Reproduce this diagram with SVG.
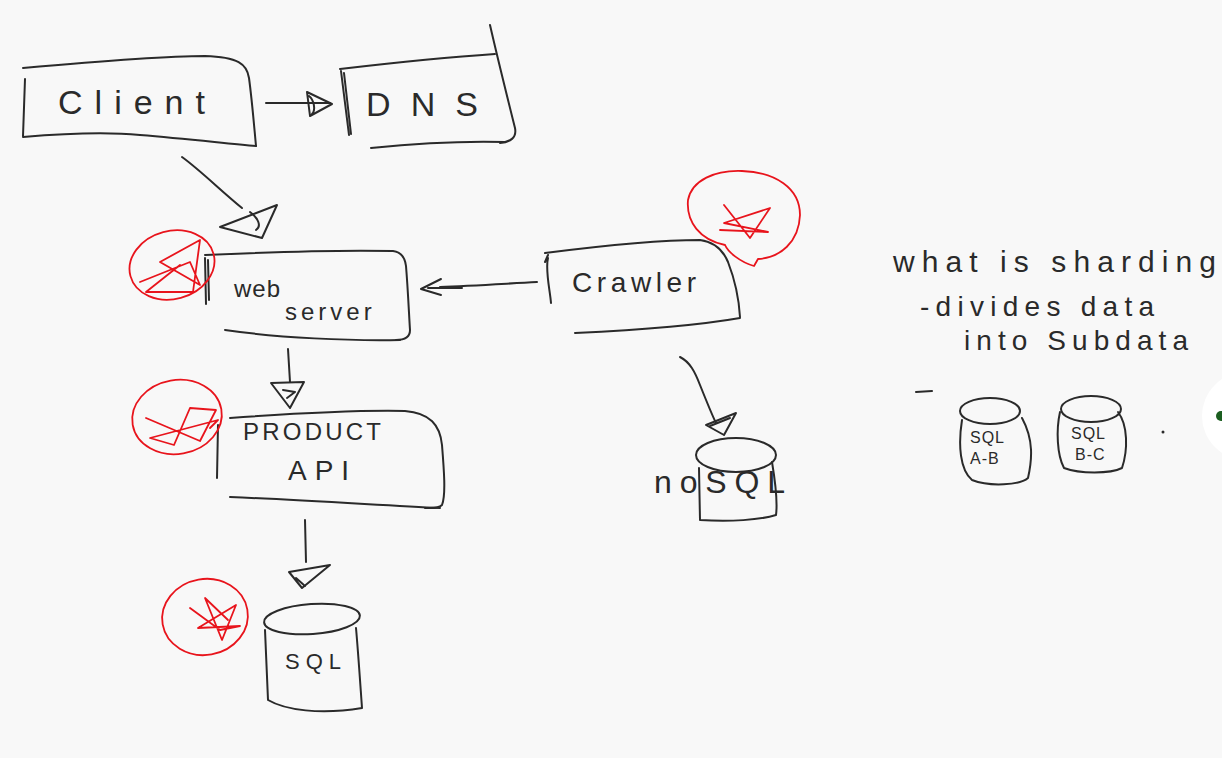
<svg xmlns="http://www.w3.org/2000/svg" width="1222" height="758" viewBox="0 0 1222 758">
<style>
.s{fill:none;stroke:#2a2a2a;stroke-width:2;stroke-linecap:round;stroke-linejoin:round}
.r{fill:none;stroke:#e8141c;stroke-width:1.8;stroke-linecap:round;stroke-linejoin:round}
.t{font-family:"Liberation Sans","DejaVu Sans",sans-serif;fill:#2a2a2a;font-weight:normal}
</style>
<rect width="1222" height="758" fill="#f8f8f8"/>
<g id="client">
<path class="s" d="M23,68 C90,62 160,56 205,56 C238,57 247,64 249,78 C252,100 254,125 256,146"/>
<path class="s" d="M25,79 L23,136"/>
<path class="s" d="M23,137 C70,133 110,132 140,135 C190,139 230,144 256,146"/>
<text class="t" x="58" y="114" font-size="34" letter-spacing="3" textLength="150">Client</text>
</g>
<g id="dns">
<path class="s" d="M340,69 C400,62 450,57 495,54"/>
<path class="s" d="M341,71 L349,135 M344,73 L351,134"/>
<path class="s" d="M490,25 C498,60 508,100 515,128 C517,138 510,142 500,143"/>
<path class="s" d="M371,148 C420,143 470,141 505,142"/>
<text class="t" x="366" y="116" font-size="34" letter-spacing="6" textLength="118">DNS</text>
</g>
<g id="webserver">
<path class="s" d="M205,255 C270,252 350,250 393,251 C402,252 405,258 406,266 C408,290 409,315 410,330 C410,338 404,340 396,340"/>
<path class="s" d="M205,258 L206,304 M208,260 L209,300"/>
<path class="s" d="M225,330 C280,338 350,341 400,340"/>
<text class="t" x="234" y="297" font-size="24" letter-spacing="1">web</text>
<text class="t" x="285" y="320" font-size="24" letter-spacing="4">server</text>
<ellipse class="r" cx="172" cy="265" rx="43" ry="34" transform="rotate(-15 172 265)"/>
<path class="r" d="M140,282 L190,262 L200,285 L160,262 L200,240 L193,292 L146,292 L180,265"/>
</g>
<g id="crawler">
<path class="s" d="M545,253 C600,246 660,240 700,240 C715,242 723,250 728,262 C735,280 739,300 740,317"/>
<path class="s" d="M548,258 C545,270 550,290 551,303 M545,262 L548,255"/>
<path class="s" d="M575,333 C640,330 700,325 740,318"/>
<text class="t" x="572" y="292" font-size="28" letter-spacing="1" textLength="125">Crawler</text>
<path class="r" d="M725,245 C700,240 686,222 688,200 C692,180 715,170 742,171 C775,172 800,188 800,215 C799,242 780,258 758,259 L754,266 C740,262 728,252 725,245"/>
<path class="r" d="M720,230 L768,232 L724,223 L770,208 L750,238 L724,205"/>
</g>
<g id="nosql">
<ellipse class="s" cx="736" cy="455" rx="40" ry="17"/>
<path class="s" d="M699,468 L700,520 C730,522 760,520 776,515 C778,500 775,480 772,462"/>
<text class="t" x="654" y="493" font-size="32" letter-spacing="1" textLength="132">noSQL</text>
</g>
<g id="productapi">
<path class="s" d="M230,418 C300,413 360,410 405,411 C430,413 440,425 442,445 C444,470 446,495 442,505 C438,509 432,508 425,508"/>
<path class="s" d="M218,425 L217,478"/>
<path class="s" d="M230,497 C300,500 380,505 440,508"/>
<text class="t" x="243" y="440" font-size="24" letter-spacing="4" textLength="142">PRODUCT</text>
<text class="t" x="288" y="480" font-size="28" letter-spacing="8">API</text>
<ellipse class="r" cx="177" cy="417" rx="45" ry="37" transform="rotate(-10 177 417)"/>
<path class="r" d="M146,418 L200,441 L216,410 L190,408 L174,445 L150,438 L218,420 L210,428"/>
</g>
<g id="sql">
<ellipse class="s" cx="312" cy="619" rx="48" ry="15" transform="rotate(-4 312 619)"/>
<path class="s" d="M265,630 L268,700 C285,710 320,715 362,708 C360,680 358,650 356,628"/>
<text class="t" x="285" y="669" font-size="22" letter-spacing="6">SQL</text>
<ellipse class="r" cx="205" cy="617" rx="43" ry="38" transform="rotate(-10 205 617)"/>
<path class="r" d="M190,608 L220,630 L240,626 L198,628 L236,605 L222,640 L205,598 L228,620"/>
</g>
<g id="shard-a">
<ellipse class="s" cx="990" cy="411" rx="30" ry="13"/>
<path class="s" d="M962,420 C958,445 960,470 972,480 C990,487 1020,485 1028,478 C1032,460 1034,440 1022,418"/>
<text class="t" x="970" y="443" font-size="16" letter-spacing="1">SQL</text>
<text class="t" x="970" y="464" font-size="16" letter-spacing="1">A-B</text>
</g>
<g id="shard-b">
<ellipse class="s" cx="1091" cy="409" rx="30" ry="13"/>
<path class="s" d="M1060,412 C1056,430 1057,455 1064,468 C1080,474 1110,474 1122,468 C1128,450 1128,425 1118,412"/>
<text class="t" x="1071" y="439" font-size="16" letter-spacing="1">SQL</text>
<text class="t" x="1075" y="460" font-size="16" letter-spacing="1">B-C</text>
</g>
<g id="notes">
<text class="t" x="893" y="272" font-size="30" letter-spacing="2" textLength="325">what is sharding</text>
<text class="t" x="920" y="316" font-size="28" letter-spacing="2" textLength="236">-divides data</text>
<text class="t" x="964" y="350" font-size="28" letter-spacing="2" textLength="226">into Subdata</text>
<path class="s" d="M916,392 L932,391"/>
<circle cx="1163" cy="432" r="1.5" fill="#2a2a2a"/>
<circle cx="1246" cy="416" r="44" fill="#ffffff"/>
<circle cx="1221" cy="416" r="5" fill="#1b5e20"/>
</g>
<g id="connectors">
<path class="s" d="M266,103 L330,103"/>
<path class="s" d="M307,92 L332,104 L310,116 Z M309,96 C314,100 316,110 312,114"/>
<path class="s" d="M182,157 C200,170 220,190 242,208"/>
<path class="s" d="M220,227 L277,205 L262,238 Z M250,212 C258,218 262,226 256,230"/>
<path class="s" d="M288,349 L290,382"/>
<path class="s" d="M271,383 L304,382 L290,408 Z M283,390 L295,392 L287,398"/>
<path class="s" d="M305,520 L306,562"/>
<path class="s" d="M289,572 L330,565 L302,588 Z M296,578 L305,586"/>
<path class="s" d="M537,282 C500,284 470,286 440,287"/>
<path class="s" d="M441,279 L421,289 L441,295 M428,288 L462,288"/>
<path class="s" d="M680,357 C690,362 695,372 700,385 C706,400 712,415 716,423"/>
<path class="s" d="M706,425 L736,413 L724,435 Z M710,426 L730,418"/>
</g>
</svg>
